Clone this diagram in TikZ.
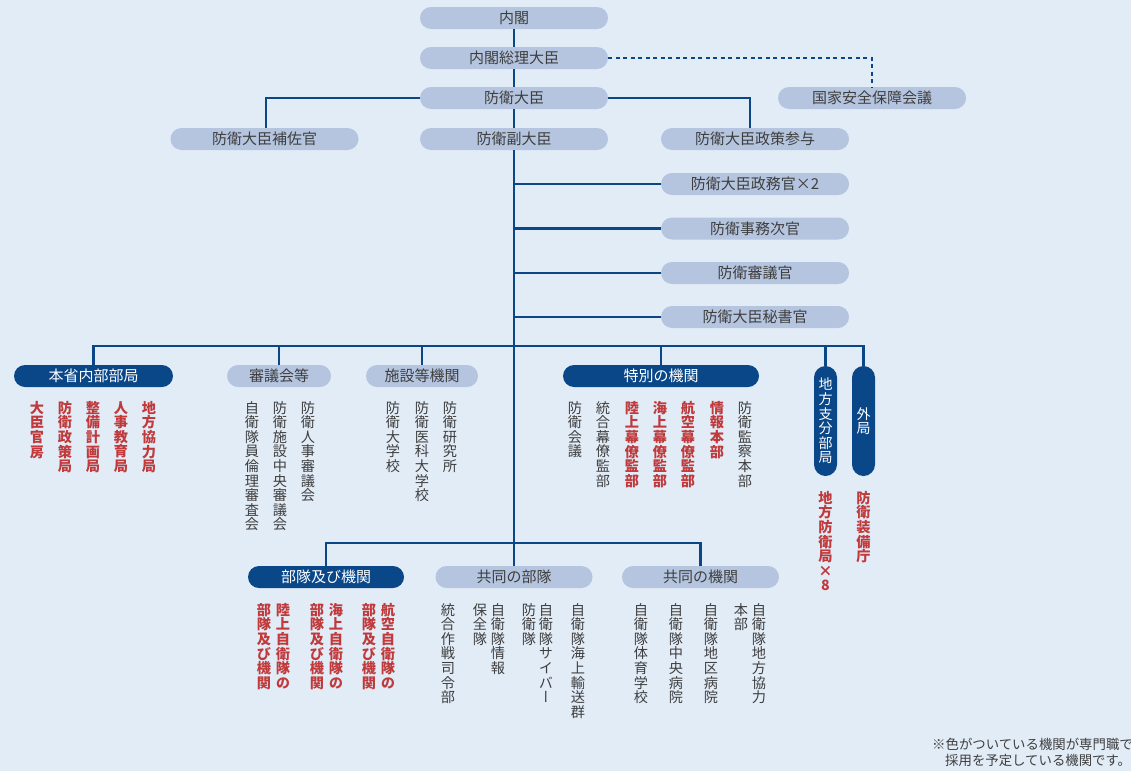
\documentclass[tikz,border=0pt]{standalone}
\usepackage{fontspec}
\setmainfont{Noto Sans CJK JP}
\newfontfamily\vfont{Noto Sans CJK JP}[RawFeature=+vert]
\definecolor{bgblue}{HTML}{E2ECF7}
\definecolor{pilllight}{HTML}{B5C5DF}
\definecolor{pilldark}{HTML}{0A4789}
\definecolor{linkblue}{HTML}{0A4789}
\definecolor{txtgray}{HTML}{3E3E3E}
\definecolor{txtred}{HTML}{C03A3C}
\ExplSyntaxOn
\NewDocumentCommand\vtext{m}
  {
    \vbox
      {
        \baselineskip=14.6pt \lineskiplimit=-20pt \lineskip=0pt
        \tl_map_inline:nn {#1} { \hbox_to_wd:nn {14pt} { \hss ##1 \hss } }
      }
  }
\ExplSyntaxOff
\tikzset{
    link/.style={draw=linkblue, line width=2.2pt},
    pill/.style={rectangle, rounded corners=11pt, minimum height=22pt, inner sep=0pt,
        font=\fontsize{15}{16}\selectfont, minimum width=#1},
    lightpill/.style={pill=#1, fill=pilllight, text=txtgray},
    lightpill/.default=188pt,
    darkpill/.style={pill=#1, fill=pilldark, text=white},
    vpill/.style={rectangle, rounded corners=11.5pt, minimum width=23pt, minimum height=110pt,
        inner sep=0pt, fill=pilldark, text=white, font=\vfont\fontsize{14}{14.6}\selectfont},
    col/.style={anchor=north, inner sep=0pt, font=\vfont\fontsize{14.2}{14.6}\selectfont},
    graycol/.style={col, text=txtgray},
    redcol/.style={col, text=txtred, font=\vfont\bfseries\fontsize{14.2}{14.6}\selectfont},
    note/.style={anchor=north west, inner sep=0pt, text=txtgray, font=\fontsize{13.4}{15}\selectfont}
}
\begin{document}
\begin{tikzpicture}[x=1pt,y=-1pt]
    \useasboundingbox (0,0) rectangle (1131,771);
    \fill[bgblue] (0,0) rectangle (1131,771);
    \node[lightpill] (naikaku) at (514,18) {内閣};
    \node[lightpill] (souri) at (514,58) {内閣総理大臣};
    \node[lightpill] (daijin) at (514,98) {防衛大臣};
    \node[lightpill] (fukudaijin) at (514,139) {防衛副大臣};
    \node[lightpill] (hosakan) at (264.5,139) {防衛大臣補佐官};
    \node[lightpill] (sanyo) at (755,139) {防衛大臣政策参与};
    \node[lightpill] (nss) at (872,98) {国家安全保障会議};
    \node[lightpill] (seimukan) at (755,184) {防衛大臣政務官×2};
    \node[lightpill] (jimujikan) at (755,228.5) {防衛事務次官};
    \node[lightpill] (shingikan) at (755,273) {防衛審議官};
    \node[lightpill] (hishokan) at (755,317) {防衛大臣秘書官};
    \draw[link] (naikaku) -- (souri);
    \draw[link] (souri) -- (daijin);
    \draw[link] (daijin) -- (fukudaijin);
    \draw[link] (daijin.west) -| ([xshift=1.5pt]hosakan.north);
    \draw[link] (daijin.east) -| ([xshift=-5pt]sanyo.north);
    \draw[link, dash pattern=on 4pt off 3.5pt] (souri.east) -| (nss.north);
    \coordinate (bus) at (514,346);
    \coordinate (trunk) at (514,543);
    \draw[link] (fukudaijin) -- (trunk);
    \foreach \n in {seimukan,jimujikan,shingikan,hishokan}
        \draw[link] (fukudaijin |- \n) -- (\n.west);
    \node[darkpill=159pt] (honsho) at (93.5,376) {本省内部部局};
    \node[lightpill=104pt] (shingikai) at (279,376) {審議会等};
    \node[lightpill=112pt] (shisetsu) at (422,376) {施設等機関};
    \node[darkpill=196pt] (tokubetsu) at (661,376) {特別の機関};
    \node[vpill] (chiho) at (825.5,421) {\vtext{地方支分部局}};
    \node[vpill] (gaikyoku) at (863.5,421) {\vtext{外局}};
    \draw[link] (honsho.north) |- (bus) -| (gaikyoku.north);
    \foreach \n in {shingikai,shisetsu,tokubetsu,chiho}
        \draw[link] (\n.north) -- (\n.north |- bus);
    \node[redcol] (kanbo) at (37,401) {\vtext{大臣官房}};
    \node[redcol] (seisaku) at (65,401) {\vtext{防衛政策局}};
    \node[redcol] (seibi) at (93,401) {\vtext{整備計画局}};
    \node[redcol] (jinji) at (121,401) {\vtext{人事教育局}};
    \node[redcol] (kyoryoku) at (149,401) {\vtext{地方協力局}};
    \node[graycol] (rinri) at (252,401) {\vtext{自衛隊員倫理審査会}};
    \node[graycol] (shisetsuchuo) at (280,401) {\vtext{防衛施設中央審議会}};
    \node[graycol] (jinjishingi) at (308,401) {\vtext{防衛人事審議会}};
    \node[graycol] (bodai) at (393,401) {\vtext{防衛大学校}};
    \node[graycol] (idai) at (422,401) {\vtext{防衛医科大学校}};
    \node[graycol] (kenkyu) at (450,401) {\vtext{防衛研究所}};
    \node[graycol] (kaigi) at (575,401) {\vtext{防衛会議}};
    \node[graycol] (togo) at (603,401) {\vtext{統合幕僚監部}};
    \node[redcol] (rikubaku) at (632,401) {\vtext{陸上幕僚監部}};
    \node[redcol] (kaibaku) at (660,401) {\vtext{海上幕僚監部}};
    \node[redcol] (kubaku) at (688,401) {\vtext{航空幕僚監部}};
    \node[redcol] (joho) at (717,401) {\vtext{情報本部}};
    \node[graycol] (kansatsu) at (745,401) {\vtext{防衛監察本部}};
    \node[redcol] (chihokyoku) at (825.5,491) {\vtext{地方防衛局×8}};
    \node[redcol] (sobicho) at (863.5,491) {\vtext{防衛装備庁}};
    \node[darkpill=156pt] (butai) at (326,577) {部隊及び機関};
    \node[lightpill=157pt] (kyodobutai) at (514,577) {共同の部隊};
    \node[lightpill=157pt] (kyodokikan) at (700.5,577) {共同の機関};
    \draw[link] (butai.north) |- (trunk) -| (kyodokikan.north);
    \draw[link] (kyodobutai.north) -- (trunk);
    \node[redcol] (riku) at (283,603) {\vtext{陸上自衛隊の}};
    \node[redcol] (rikubutai) at (264,603) {\vtext{部隊及び機関}};
    \node[redcol] (kai) at (336,603) {\vtext{海上自衛隊の}};
    \node[redcol] (kaibutai) at (317,603) {\vtext{部隊及び機関}};
    \node[redcol] (ku) at (388,603) {\vtext{航空自衛隊の}};
    \node[redcol] (kubutai) at (369,603) {\vtext{部隊及び機関}};
    \node[graycol] (sakusen) at (448,603) {\vtext{統合作戦司令部}};
    \node[graycol] (hozen1) at (498,603) {\vtext{自衛隊情報}};
    \node[graycol] (hozen2) at (480,603) {\vtext{保全隊}};
    \node[graycol] (cyber1) at (546,603) {\vtext{自衛隊サイバー}};
    \node[graycol] (cyber2) at (529,603) {\vtext{防衛隊}};
    \node[graycol] (yuso) at (578,603) {\vtext{自衛隊海上輸送群}};
    \node[graycol] (taiiku) at (641,603) {\vtext{自衛隊体育学校}};
    \node[graycol] (chuo) at (676,603) {\vtext{自衛隊中央病院}};
    \node[graycol] (chiku) at (711,603) {\vtext{自衛隊地区病院}};
    \node[graycol] (chikyo1) at (759,603) {\vtext{自衛隊地方協力}};
    \node[graycol] (chikyo2) at (741,603) {\vtext{本部}};
    \node[note] (note1) at (932,738) {※色がついている機関が専門職で};
    \node[note] (note2) at (945,754) {採用を予定している機関です。};
\end{tikzpicture}
\end{document}
